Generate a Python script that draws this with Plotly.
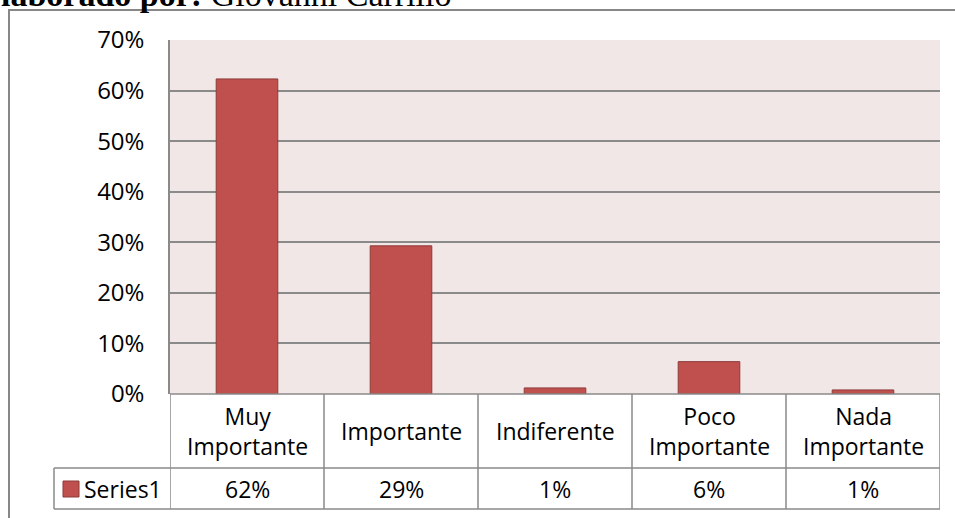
import plotly.graph_objects as go

# ---- data ----
categories = ["Muy Importante", "Importante", "Indiferente", "Poco Importante", "Nada Importante"]
category_labels = ["Muy<br>Importante", "Importante", "Indiferente", "Poco<br>Importante", "Nada<br>Importante"]
series_name = "Series1"
values = [0.623, 0.293, 0.012, 0.064, 0.008]
y_ticks = [0.0, 0.1, 0.2, 0.3, 0.4, 0.5, 0.6, 0.7]
y_tick_labels = ["0%", "10%", "20%", "30%", "40%", "50%", "60%", "70%"]

# ---- layout geometry (pixels) ----
W, H = 955, 518
L, R, T, B = 170, 15, 40, 124
plot_h = H - T - B

BAR_FILL = "#C0504D"
BAR_LINE = "#8C3A38"
GRID = "#8A8A8A"
FONT = "Open Sans"


def py(p):
    """pixel row -> paper y"""
    return (H - B - p) / plot_h


def px(p):
    """pixel column -> paper x"""
    return (p - L) / (W - L - R)


n = len(categories)
xs = list(range(n))

fig = go.Figure()
fig.add_trace(go.Bar(
    x=xs, y=values, name=series_name, width=0.4,
    marker=dict(color=BAR_FILL, line=dict(color=BAR_LINE, width=1)),
    hoverinfo="skip", showlegend=False,
))

shapes = []
annotations = []
line = dict(color=GRID, width=1.5)

# data table: category row and value row
row_top, row_mid, row_bot = H - B, 468, 509
legend_left = 54
for i in range(n + 1):
    shapes.append(dict(type="line", xref="x", yref="paper",
                       x0=i - 0.5, x1=i - 0.5, y0=py(row_top), y1=py(row_bot), line=line))
shapes.append(dict(type="line", xref="x", yref="paper", x0=-0.5, x1=n - 0.5,
                   y0=py(row_top), y1=py(row_top), line=line))
for r in (row_mid, row_bot):
    shapes.append(dict(type="line", xref="paper", yref="paper", x0=px(legend_left), x1=px(L),
                       y0=py(r), y1=py(r), line=line))
    shapes.append(dict(type="line", xref="x", yref="paper", x0=-0.5, x1=n - 0.5,
                       y0=py(r), y1=py(r), line=line))
shapes.append(dict(type="line", xref="paper", yref="paper", x0=px(legend_left), x1=px(legend_left),
                   y0=py(row_mid), y1=py(row_bot), line=line))

# legend key inside the table
shapes.append(dict(type="rect", xref="paper", yref="paper",
                   x0=px(63), x1=px(79), y0=py(497), y1=py(481),
                   fillcolor=BAR_FILL, line=dict(color=BAR_LINE, width=1)))
annotations.append(dict(x=px(82), y=py((row_mid + row_bot) / 2), xref="paper", yref="paper",
                        text=series_name, showarrow=False, xanchor="left", yanchor="middle",
                        font=dict(family=FONT, size=23, color="black")))

for i, (lab, v) in enumerate(zip(category_labels, values)):
    annotations.append(dict(x=i, y=py((row_top + row_mid) / 2), xref="x", yref="paper",
                            text=lab, showarrow=False, xanchor="center", yanchor="middle",
                            font=dict(family=FONT, size=23, color="black")))
    annotations.append(dict(x=i, y=py((row_mid + row_bot) / 2), xref="x", yref="paper",
                            text=f"{v:.0%}", showarrow=False, xanchor="center", yanchor="middle",
                            font=dict(family=FONT, size=23, color="black")))

# outer chart frame
shapes.append(dict(type="rect", xref="paper", yref="paper",
                   x0=px(9), x1=px(W + 20), y0=py(H + 20), y1=py(10),
                   line=dict(color="#878787", width=2), layer="below"))

# caption above the chart frame
annotations.append(dict(x=px(-1), y=py(15), xref="paper", yref="paper",
                        text="<b>laborado por:</b> Giovanni Carrillo", showarrow=False,
                        xanchor="left", yanchor="bottom",
                        font=dict(family="Liberation Serif", size=34, color="black")))

fig.update_layout(
    width=W, height=H,
    margin=dict(l=L, r=R, t=T, b=B),
    paper_bgcolor="white",
    plot_bgcolor="#F2E7E7",
    shapes=shapes,
    annotations=annotations,
    bargap=0.6,
    xaxis=dict(range=[-0.5, n - 0.5], showticklabels=False, showgrid=False,
               zeroline=False, showline=False, fixedrange=True),
    yaxis=dict(range=[0, 0.7], tickvals=y_ticks, ticktext=y_tick_labels,
               showgrid=True, gridcolor=GRID, gridwidth=1.5, zeroline=False,
               showline=True, linecolor=GRID, linewidth=1.5, ticks="",
               ticklabelstandoff=19,
               tickfont=dict(family=FONT, size=24, color="black"), fixedrange=True),
)

fig.write_html("out.html")
